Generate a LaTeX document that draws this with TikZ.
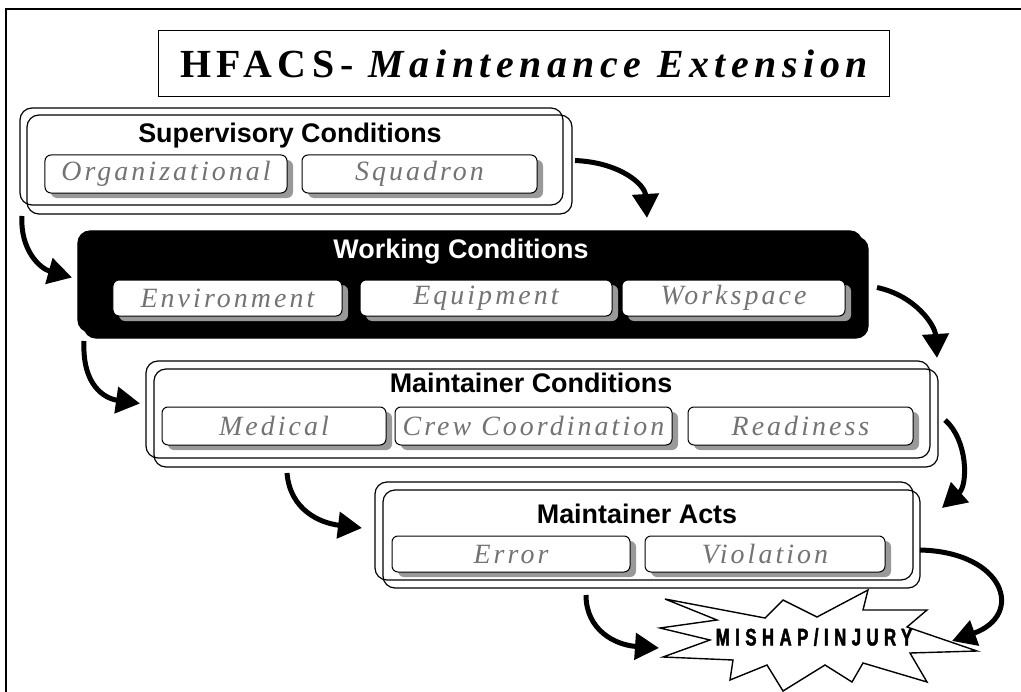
\documentclass[tikz,border=0pt]{standalone}
\usepackage{fontspec}
\setmainfont{Liberation Serif}
\newfontfamily\headfont{Liberation Sans}
\newfontfamily\itemfont[LetterSpace=11]{Liberation Serif}
\newfontfamily\titlefont[LetterSpace=14]{Liberation Serif}
\newfontfamily\mishapfont[FakeStretch=0.7,LetterSpace=23,FakeBold=2]{Liberation Sans}
\usepackage{tikz}
\usetikzlibrary{arrows.meta,positioning,calc,shadows}

\begin{document}
\begin{tikzpicture}[
    x=1bp, y=-1bp,
    group/.style={rectangle, draw=black, line width=1.2bp, rounded corners=12bp, inner sep=0pt, outer sep=0pt},
    darkgroup/.style={group, fill=black},
    head/.style={font=\headfont\fontsize{27}{30}\selectfont\bfseries, anchor=base, inner sep=0pt},
    item/.style={rectangle, draw=black, line width=1bp, fill=white, rounded corners=6bp, inner sep=0pt, outer sep=0pt, font=\itemfont\fontsize{28}{30}\selectfont\itshape, text=black!55, drop shadow={shadow xshift=6bp, shadow yshift=-5bp, fill=black!40, opacity=1}},
    burst/.style={draw=black, fill=white, line width=1.4bp, line join=miter},
    arrow/.style={-{Triangle[length=24bp, width=26bp]}, line width=5bp}
]
    \useasboundingbox [fill=white] (0,0) rectangle (1021,692);
    \draw [line width=2bp] (6,692) |- (1021,9);

    \node [draw, line width=1bp, minimum width=730bp, minimum height=66bp, inner sep=0pt] (title) at (524,64)
        {\titlefont\fontsize{40}{44}\selectfont\bfseries HFACS- \itshape Maintenance Extension};

    % supervisory conditions
    \node [group, minimum width=545bp, minimum height=99bp] (supB) at (299.5,164.5) {};
    \node [group, minimum width=543bp, minimum height=97bp] (supA) at (291.5,156.5) {};
    \node [head] (suph) at (290,143) {Supervisory Conditions};
    \node [item, minimum width=242bp, minimum height=38bp] (org) at (166,174) {Organizational};
    \node [item, minimum width=235bp, minimum height=38bp, right=15bp of org] (sqd) {Squadron};

    % working conditions
    \node [darkgroup, minimum width=784bp, minimum height=101bp] (workB) at (476,287.5) {};
    \node [darkgroup, minimum width=784bp, minimum height=101bp] (workA) at (470,281.5) {};
    \node [head, text=white] (workh) at (461,258) {Working Conditions};
    \node [item, minimum width=229bp, minimum height=36bp] (env) at (227.5,298) {Environment};
    \node [item, minimum width=252bp, minimum height=36bp, right=18bp of env] (equ) {Equipment};
    \node [item, minimum width=223bp, minimum height=36bp, right=10bp of equ] (wsp) {Workspace};

    % maintainer conditions
    \node [group, minimum width=784bp, minimum height=98bp] (mcB) at (546,418) {};
    \node [group, minimum width=784bp, minimum height=97bp] (mcA) at (538,409.5) {};
    \node [head] (mch) at (531,392) {Maintainer Conditions};
    \node [item, minimum width=224bp, minimum height=38bp] (med) at (274,426) {Medical};
    \node [item, minimum width=277bp, minimum height=38bp, right=9bp of med] (crew) {Crew Coordination};
    \node [item, minimum width=225bp, minimum height=38bp, right=16bp of crew] (rdy) {Readiness};

    % maintainer acts
    \node [group, minimum width=537bp, minimum height=98bp] (maB) at (651.5,539) {};
    \node [group, minimum width=538bp, minimum height=98bp] (maA) at (644,531) {};
    \node [head] (mah) at (637,523) {Maintainer Acts};
    \node [item, minimum width=238bp, minimum height=36bp] (err) at (511,554) {Error};
    \node [item, minimum width=240bp, minimum height=36bp, right=15bp of err] (vio) {Violation};

    % mishap burst
    \coordinate (burstc) at (814,637);
    \begin{scope}[shift={(burstc)}]
        \draw [burst] (-149,-38) -- (-49,-19) -- (-31,-37) -- (3,-20) -- (54,-47) -- (49,-27)
            -- (113,-27) -- (93,-10) -- (163,14) -- (96,16) -- (113,45) -- (49,26) -- (38,45)
            -- (11,28) -- (-31,54) -- (-47,28) -- (-84,43) -- (-81,23) -- (-151,20) -- (-104,3)
            -- (-154,-9) -- (-97,-17) -- cycle;
    \end{scope}
    \node [inner sep=0pt] (mishap) at (burstc) {\mishapfont\fontsize{24}{26}\selectfont\bfseries MISHAP/INJURY};

    \draw [arrow] ($(supA.south west)+(2,11)$) .. controls +(-2,34) and +(-32,-9) .. ($(workA.west)+(-6,-4)$);
    \draw [arrow] ($(supB.east)+(3,-4)$) .. controls +(46,2) and +(-2,-33) .. ($(workA.north east)+(-215,-13)$);
    \draw [arrow] ($(workB.south west)+(0,3)$) .. controls +(-2,45) and +(-35,-5) .. ($(mcA.west)+(-6,-6)$);
    \draw [arrow] ($(workB.east)+(9,0)$) .. controls +(38,8) and +(-2,-33) .. ($(mcB.north east)+(-1,-11)$);
    \draw [arrow] ($(med.south)+(13,28)$) .. controls +(3,37) and +(-42,-5) .. ($(maA.west)+(-13,-3)$);
    \draw [arrow] ($(mcB.east)+(7,2)$) .. controls +(23,20) and +(26,-23) .. ($(maB.north east)+(22,18)$);
    \draw [arrow] ($(err.south)+(75,23)$) .. controls +(0,35) and +(-44,-3) .. ($(burstc)+(-155,11)$);
    \draw [arrow] ($(maB.east)+(0,11)$) .. controls +(85,2) and +(73,-26) .. ($(burstc)+(138,4)$);
\end{tikzpicture}
\end{document}
